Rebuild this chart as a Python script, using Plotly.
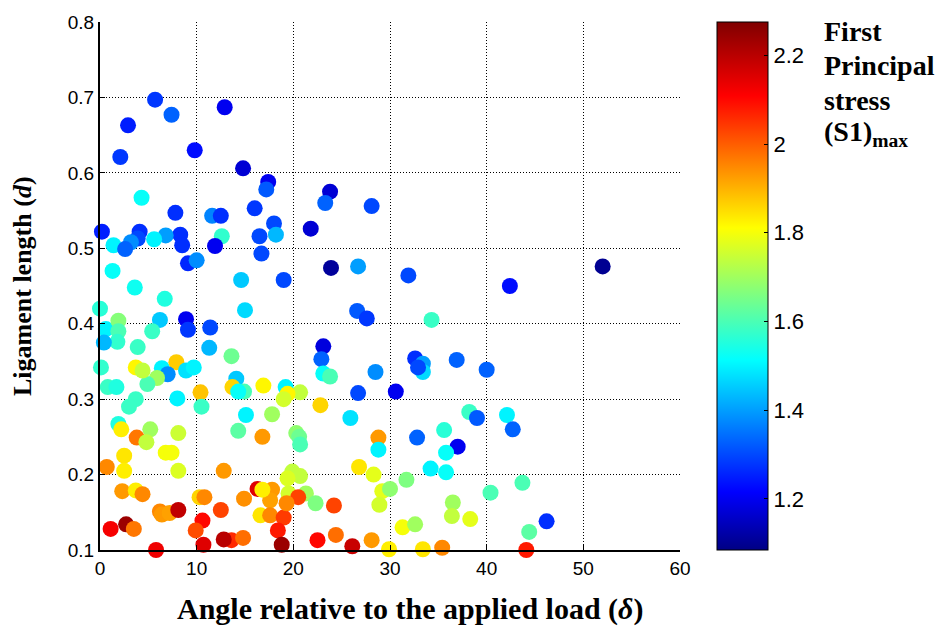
import plotly.graph_objects as go

# Angle relative to applied load (delta, degrees)
delta = [
    5.7, 2.9, 7.4, 12.9, 2.1, 9.8, 14.8, 17.4, 17.2, 23.8,
    23.3, 28.1, 16.0, 18.0, 7.8, 0.2, 4.1, 11.6, 12.5, 12.6,
    8.3, 6.8, 3.9, 3.2, 1.4, 2.6, 5.6, 8.5, 11.9, 9.1,
    10.0, 16.5, 16.7, 18.2, 21.8, 4.3, 23.9, 26.7, 31.9, 42.4,
    52.0, 1.3, 14.6, 19.0, 3.6, 6.7, 0.0, 15.0, 6.2, 8.9,
    11.4, 9.1, 0.6, 1.9, 1.9, 1.8, 0.4, 26.6, 27.6, 34.3,
    5.4, 3.9, 11.3, 13.6, 23.1, 22.9, 32.6, 36.9, 33.4, 33.4,
    40.0, 0.1, 6.4, 7.9, 7.0, 5.9, 4.9, 8.9, 9.7, 14.1,
    13.7, 23.1, 23.8, 28.5, 16.9, 14.9, 14.3, 10.4, 0.8, 1.7,
    3.7, 3.0, 8.0, 10.5, 19.2, 20.7, 19.4, 19.0, 22.8, 17.8,
    15.1, 25.9, 30.6, 38.2, 39.0, 42.1, 42.7, 35.6, 1.9, 2.2,
    5.2, 3.8, 4.8, 8.1, 14.3, 16.8, 20.3, 20.6, 20.7, 28.8,
    28.8, 32.8, 37.0, 35.8, 2.5, 6.8, 7.4, 0.7, 2.5, 8.1,
    12.8, 19.9, 20.7, 19.4, 26.8, 28.3, 31.7, 34.2, 35.8, 43.7,
    2.3, 3.7, 4.4, 10.3, 10.8, 14.9, 17.8, 17.6, 19.5, 21.3,
    20.5, 22.3, 29.2, 28.9, 36.5, 40.4, 38.3, 36.4, 46.2, 44.4,
    31.3, 32.6, 24.2, 16.3, 16.6, 17.6, 19.0, 6.2, 6.4, 7.2,
    8.1, 12.5, 10.6, 9.9, 1.1, 2.7, 3.5, 13.6, 12.8, 14.8,
    10.7, 5.8, 18.4, 18.8, 22.5, 24.4, 26.1, 28.1, 29.9, 33.4,
    35.4, 44.1, 30.0, 19.3, 16.8, 3.7, 4.4, 32.9, 26.7,
]

# Ligament length (d)
lig = [
    0.697, 0.663, 0.677, 0.687, 0.621, 0.630, 0.606, 0.588, 0.578, 0.575,
    0.560, 0.556, 0.553, 0.533, 0.547, 0.522, 0.522, 0.543, 0.543, 0.516,
    0.518, 0.517, 0.513, 0.508, 0.504, 0.499, 0.512, 0.504, 0.503, 0.480,
    0.484, 0.516, 0.493, 0.518, 0.526, 0.567, 0.474, 0.476, 0.464, 0.450,
    0.476, 0.470, 0.458, 0.458, 0.448, 0.433, 0.420, 0.418, 0.405, 0.406,
    0.395, 0.392, 0.393, 0.404, 0.390, 0.376, 0.375, 0.417, 0.407, 0.405,
    0.390, 0.369, 0.368, 0.357, 0.370, 0.353, 0.354, 0.352, 0.347, 0.336,
    0.339, 0.342, 0.341, 0.349, 0.333, 0.328, 0.320, 0.338, 0.342, 0.327,
    0.316, 0.334, 0.330, 0.336, 0.318, 0.310, 0.310, 0.309, 0.316, 0.316,
    0.300, 0.290, 0.301, 0.290, 0.316, 0.309, 0.307, 0.300, 0.292, 0.280,
    0.279, 0.275, 0.310, 0.283, 0.275, 0.279, 0.260, 0.259, 0.267, 0.260,
    0.260, 0.249, 0.243, 0.255, 0.258, 0.250, 0.255, 0.250, 0.240, 0.249,
    0.233, 0.249, 0.237, 0.229, 0.225, 0.229, 0.229, 0.210, 0.205, 0.205,
    0.205, 0.204, 0.198, 0.195, 0.210, 0.200, 0.193, 0.208, 0.203, 0.189,
    0.178, 0.179, 0.174, 0.170, 0.170, 0.168, 0.180, 0.166, 0.175, 0.175,
    0.170, 0.162, 0.178, 0.160, 0.163, 0.176, 0.141, 0.145, 0.138, 0.124,
    0.130, 0.134, 0.159, 0.181, 0.146, 0.146, 0.143, 0.151, 0.147, 0.149,
    0.153, 0.153, 0.139, 0.126, 0.128, 0.134, 0.128, 0.113, 0.114, 0.116,
    0.107, 0.100, 0.126, 0.107, 0.113, 0.120, 0.105, 0.113, 0.101, 0.101,
    0.103, 0.100, 0.181, 0.162, 0.180, 0.342, 0.338, 0.342, 0.308,
]

# First principal stress (S1)max
s1 = [
    1.28, 1.25, 1.33, 1.20, 1.28, 1.23, 1.17, 1.20, 1.32, 1.17,
    1.33, 1.30, 1.28, 1.30, 1.27, 1.25, 1.27, 1.37, 1.27, 1.57,
    1.27, 1.40, 1.30, 1.38, 1.50, 1.33, 1.50, 1.27, 1.20, 1.26,
    1.38, 1.30, 1.30, 1.43, 1.17, 1.52, 1.11, 1.40, 1.30, 1.23,
    1.10, 1.52, 1.45, 1.30, 1.53, 1.55, 1.56, 1.47, 1.45, 1.20,
    1.30, 1.28, 1.50, 1.67, 1.60, 1.57, 1.43, 1.32, 1.28, 1.58,
    1.58, 1.58, 1.43, 1.64, 1.18, 1.33, 1.27, 1.33, 1.40, 1.47,
    1.33, 1.57, 1.50, 1.87, 1.38, 1.70, 1.60, 1.48, 1.50, 1.45,
    1.86, 1.52, 1.60, 1.38, 1.82, 1.60, 1.52, 1.88, 1.58, 1.55,
    1.58, 1.58, 1.50, 1.58, 1.50, 1.74, 1.82, 1.76, 1.86, 1.70,
    1.50, 1.48, 1.20, 1.58, 1.32, 1.50, 1.33, 1.56, 1.55, 1.83,
    1.70, 1.97, 1.74, 1.75, 1.62, 1.93, 1.68, 1.64, 1.60, 1.93,
    1.50, 1.33, 1.20, 1.52, 1.84, 1.80, 1.80, 1.95, 1.83, 1.77,
    1.93, 1.74, 1.74, 1.77, 1.84, 1.78, 1.66, 1.50, 1.52, 1.60,
    1.93, 1.83, 1.95, 1.86, 1.95, 1.94, 1.93, 1.92, 1.76, 1.70,
    2.03, 1.66, 1.78, 1.76, 1.70, 1.60, 1.78, 1.74, 1.27, 1.62,
    1.80, 1.70, 2.03, 2.15, 1.84, 1.95, 2.04, 1.95, 1.93, 1.92,
    2.19, 2.03, 2.10, 2.02, 2.12, 2.24, 1.97, 2.06, 2.20, 1.98,
    2.15, 2.13, 2.08, 2.24, 2.10, 1.98, 2.18, 1.93, 1.83, 1.84,
    1.95, 2.08, 1.68, 1.95, 1.83, 1.82, 1.74, 1.30, 1.30,
]

x_ticks = [0, 10, 20, 30, 40, 50, 60]
y_ticks = [0.1, 0.2, 0.3, 0.4, 0.5, 0.6, 0.7, 0.8]
cb_ticks = [1.2, 1.4, 1.6, 1.8, 2.0, 2.2]
cb_text = ["1.2", "1.4", "1.6", "1.8", "2", "2.2"]
cb_title_lines = ["First", "Principal", "stress", "(S1)<sub>max</sub>"]

jet = [
    [0.0, "#000084"], [0.11, "#0000ff"], [0.36, "#00ffff"],
    [0.61, "#ffff00"], [0.86, "#ff0000"], [1.0, "#800000"],
]

SERIF = "Liberation Serif, Times New Roman, serif"
SANS = "Liberation Sans, Arial, sans-serif"

fig = go.Figure(go.Scatter(
    x=delta, y=lig, mode="markers", cliponaxis=False,
    marker=dict(
        size=16, color=s1, colorscale=jet, cmin=1.085, cmax=2.275,
        line=dict(width=0), opacity=1,
        colorbar=dict(
            x=1.064, xanchor="left", y=0.5, yanchor="middle",
            len=1.0, lenmode="fraction", thickness=51,
            outlinewidth=1, outlinecolor="black",
            tickvals=cb_ticks, ticktext=cb_text,
            ticks="inside", ticklen=4, tickcolor="black",
            tickfont=dict(family=SANS, size=22, color="black"),
            ypad=0, xpad=0,
        ),
    ),
    showlegend=False,
))

axis_common = dict(
    showline=True, linecolor="black", linewidth=2, mirror=False,
    ticks="inside", ticklen=5, tickcolor="black", tickwidth=1,
    showgrid=True, gridcolor="black", gridwidth=1, griddash="1px,2px",
    zeroline=False,
    tickfont=dict(family=SANS, size=19, color="black"),
)

fig.update_xaxes(range=[0, 60], tickvals=x_ticks, **axis_common)
fig.update_yaxes(range=[0.1, 0.8], tickvals=y_ticks, tickformat=".1f", **axis_common)

# axis titles
fig.add_annotation(
    xref="paper", yref="paper", x=0.535, y=-0.111, xanchor="center", yanchor="middle",
    showarrow=False, text="<b>Angle relative to the applied load (<i>δ</i>)</b>",
    font=dict(family=SERIF, size=30, color="black"),
)
fig.add_annotation(
    xref="paper", yref="paper", x=-0.1345, y=0.5, xanchor="center", yanchor="middle",
    showarrow=False, textangle=-90, text="<b>Ligament length (<i>d</i>)</b>",
    font=dict(family=SERIF, size=26, color="black"),
)

# colorbar title, one line per annotation
line_y = [0.982, 0.918, 0.852, 0.789]
for txt, yy in zip(cb_title_lines, line_y):
    fig.add_annotation(
        xref="paper", yref="paper", x=1.2448, y=yy, xanchor="left", yanchor="middle",
        showarrow=False, align="left", text="<b>" + txt + "</b>",
        font=dict(family=SERIF, size=28, color="black"),
    )

fig.update_layout(
    width=945, height=637,
    margin=dict(l=100, r=265, t=18, b=87),
    paper_bgcolor="white", plot_bgcolor="white",
)

fig.write_html("out.html")
